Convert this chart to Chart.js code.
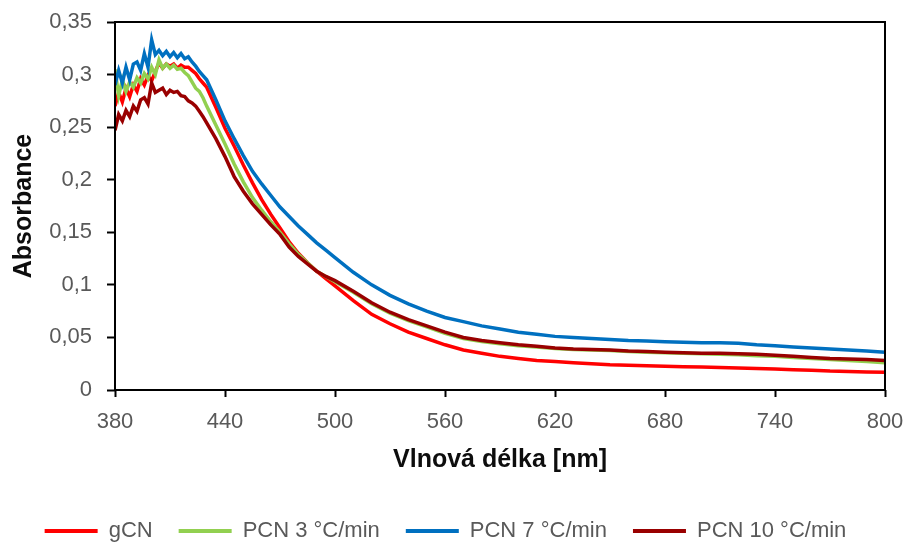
<!DOCTYPE html>
<html>
<head>
<meta charset="utf-8">
<script src="https://cdn.jsdelivr.net/npm/chart.js@4.4.1/dist/chart.umd.min.js"></script>
<style>
  body { margin: 0; background: #fff; }
</style>
</head>
<body>
<canvas id="graf" width="907" height="545"></canvas>
<script>
// vlnove delky [nm] - husteji v zasumene oblasti
const wl = [380, 382, 384, 386, 388, 390, 392, 394, 396, 398, 400, 402, 404, 406, 408, 410, 412, 414, 416, 418, 420, 422, 424, 426, 428, 430,
   435, 440, 445, 450, 455, 460, 465, 470, 475, 480, 485, 490, 495, 500,
   510, 520, 530, 540, 550, 560, 570, 580, 590, 600, 610, 620, 630, 640, 650, 660, 670, 680, 690, 700,
   710, 720, 730, 740, 750, 760, 770, 780, 790, 800];

const gCN = [0.27, 0.283, 0.274, 0.287, 0.279, 0.29, 0.284, 0.296, 0.29, 0.299, 0.294, 0.303, 0.311, 0.306, 0.31, 0.308, 0.31, 0.306, 0.309, 0.307, 0.307, 0.304, 0.301, 0.296, 0.292, 0.288,
   0.269, 0.249, 0.232, 0.214, 0.197, 0.181, 0.167, 0.154, 0.141, 0.130, 0.121, 0.113, 0.106, 0.099,
   0.085, 0.072, 0.063, 0.055, 0.049, 0.043, 0.038, 0.035, 0.032, 0.030, 0.028, 0.027, 0.026, 0.025, 0.024, 0.0235, 0.023, 0.0225, 0.022, 0.0218,
   0.0214, 0.021, 0.0205, 0.020, 0.0193, 0.0188, 0.018, 0.0177, 0.0172, 0.017];

const pcn3 = [0.305, 0.28, 0.295, 0.284, 0.293, 0.288, 0.297, 0.292, 0.301, 0.296, 0.307, 0.30, 0.314, 0.306, 0.31, 0.306, 0.309, 0.305, 0.306, 0.302, 0.299, 0.293, 0.287, 0.284, 0.278, 0.27,
   0.252, 0.234, 0.215, 0.198, 0.183, 0.171, 0.160, 0.150, 0.139, 0.129, 0.121, 0.113, 0.108, 0.103,
   0.093, 0.082, 0.073, 0.066, 0.060, 0.054, 0.049, 0.046, 0.044, 0.042, 0.041, 0.0395, 0.0385, 0.038, 0.0375, 0.0365, 0.036, 0.0355, 0.035, 0.0345,
   0.034, 0.0335, 0.0325, 0.032, 0.031, 0.030, 0.029, 0.028, 0.027, 0.026];

const pcn7 = [0.29, 0.304, 0.292, 0.307, 0.295, 0.31, 0.312, 0.304, 0.32, 0.307, 0.333, 0.319, 0.323, 0.318, 0.322, 0.317, 0.321, 0.316, 0.32, 0.315, 0.317, 0.312, 0.308, 0.303, 0.299, 0.295,
   0.276, 0.256, 0.239, 0.223, 0.208, 0.196, 0.185, 0.174, 0.165, 0.156, 0.148, 0.140, 0.133, 0.126,
   0.112, 0.100, 0.090, 0.082, 0.075, 0.069, 0.065, 0.061, 0.058, 0.055, 0.053, 0.051, 0.050, 0.049, 0.048, 0.047, 0.0465, 0.046, 0.0455, 0.045,
   0.045, 0.0445, 0.043, 0.042, 0.041, 0.040, 0.039, 0.038, 0.037, 0.036];

const pcn10 = [0.247, 0.262, 0.256, 0.266, 0.26, 0.27, 0.265, 0.276, 0.278, 0.272, 0.292, 0.283, 0.285, 0.287, 0.281, 0.285, 0.283, 0.284, 0.28, 0.279, 0.275, 0.273, 0.27, 0.265, 0.26, 0.254,
   0.239, 0.222, 0.203, 0.189, 0.177, 0.167, 0.157, 0.148, 0.136, 0.127, 0.120, 0.113, 0.108, 0.104,
   0.094, 0.083, 0.074, 0.067, 0.061, 0.055, 0.050, 0.047, 0.045, 0.043, 0.0415, 0.040, 0.039, 0.0385, 0.038, 0.037, 0.0365, 0.036, 0.0355, 0.035,
   0.035, 0.0345, 0.034, 0.033, 0.032, 0.031, 0.030, 0.0295, 0.029, 0.028];

const xTicks = [380, 440, 500, 560, 620, 680, 740, 800];
const yTicks = [0, 0.05, 0.1, 0.15, 0.2, 0.25, 0.3, 0.35];

const FONT = "'Liberation Sans', Arial, sans-serif";
const GREY = '#595959';

function serie(label, values, color, order) {
   return {
      label: label,
      data: values.map((v, i) => ({ x: wl[i], y: v })),
      borderColor: color,
      backgroundColor: color,
      borderWidth: 3.5,
      pointRadius: 0,
      tension: 0,
      order: order
   };
}

// ramecek kolem grafu
const ramecek = {
   id: 'ramecek',
   afterDatasetsDraw(chart) {
      const a = chart.chartArea;
      const c = chart.ctx;
      c.save();
      c.strokeStyle = '#000';
      c.lineWidth = 2;
      c.strokeRect(a.left, a.top, a.right - a.left, a.bottom - a.top);
      c.restore();
   }
};

const ctx = document.getElementById('graf');

const myChart = new Chart(ctx, {
   type: 'line',
   data: {
      datasets: [
         serie('gCN', gCN, '#FF0000', 4),
         serie('PCN 3 °C/min', pcn3, '#92D050', 3),
         serie('PCN 7 °C/min', pcn7, '#0070C0', 2),
         serie('PCN 10 °C/min', pcn10, '#990000', 1)
      ]
   },
   options: {
      responsive: false,
      animation: false,
      layout: {
         padding: { left: 6, right: 22, top: 22, bottom: 0 }
      },
      scales: {
         x: {
            type: 'linear',
            min: 380,
            max: 800,
            afterBuildTicks: s => { s.ticks = xTicks.map(v => ({ value: v })); },
            afterFit: s => { s.height = 104; s.paddingLeft = 0; s.paddingRight = 0; },
            ticks: {
               color: GREY,
               font: { family: FONT, size: 22 },
               padding: 12,
               maxRotation: 0
            },
            grid: {
               drawOnChartArea: false,
               color: '#000',
               tickLength: 7,
               tickWidth: 2
            },
            border: { display: false },
            title: {
               display: true,
               text: 'Vlnová délka [nm]',
               color: '#0d0d0d',
               font: { family: FONT, size: 25, weight: 'bold' },
               padding: { top: 0, bottom: 19 }
            }
         },
         y: {
            min: 0,
            max: 0.35,
            afterBuildTicks: s => { s.ticks = yTicks.map(v => ({ value: v })); },
            afterFit: s => { s.width = 109; s.paddingTop = 0; s.paddingBottom = 0; },
            ticks: {
               color: GREY,
               font: { family: FONT, size: 22 },
               padding: 15,
               callback: v => String(+v.toFixed(2)).replace('.', ',')
            },
            grid: {
               drawOnChartArea: false,
               color: '#000',
               tickLength: 8,
               tickWidth: 2
            },
            border: { display: false },
            title: {
               display: true,
               text: 'Absorbance',
               color: '#0d0d0d',
               font: { family: FONT, size: 25, weight: 'bold' },
               padding: { top: 3, bottom: 0 }
            }
         }
      },
      plugins: {
         legend: {
            position: 'bottom',
            maxHeight: 51,
            labels: {
               color: GREY,
               font: { family: FONT, size: 22 },
               boxWidth: 53,
               boxHeight: 4,
               padding: 26,
               sort: (a, b) => a.datasetIndex - b.datasetIndex,
               generateLabels: chart => Chart.defaults.plugins.legend.labels.generateLabels(chart)
                  .map(l => Object.assign(l, { lineWidth: 0 }))
            }
         },
         tooltip: { enabled: false }
      }
   },
   plugins: [ramecek]
});
</script>
</body>
</html>
